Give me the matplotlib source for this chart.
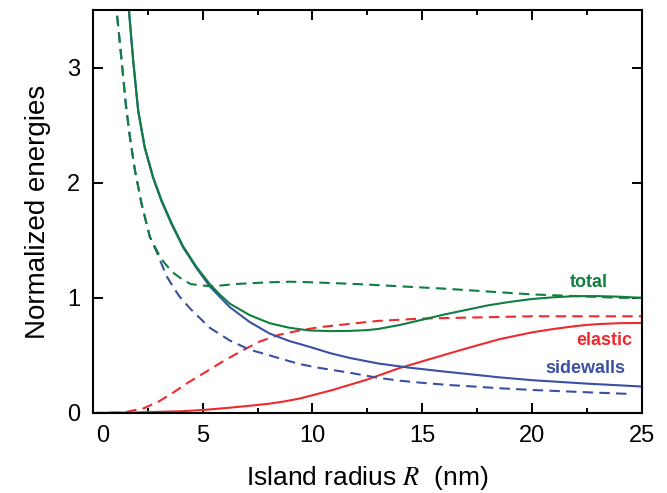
import numpy as np
import matplotlib
matplotlib.use('Agg')
import matplotlib.pyplot as plt
from matplotlib.ticker import MultipleLocator
from matplotlib.transforms import ScaledTranslation

plt.rcParams['font.family'] = ['Liberation Sans', 'DejaVu Sans']
plt.rcParams['mathtext.fontset'] = 'stix'

# total energy, solid and dashed
total_x = [1.64, 1.83, 2.06, 2.36, 2.74, 3.12, 3.58, 4.1, 4.71, 5.32, 5.77, 6.23, 7.14, 8.05, 8.95,
           9.86, 10.8, 11.7, 12.5, 13.0, 14.0, 15.0, 16.0, 17.0, 18.0, 19.0, 20.0, 21.0, 22.0, 23.0,
           24.0, 25.0]
total_y = [3.5, 3.07, 2.63, 2.31, 2.05, 1.85, 1.65, 1.45, 1.27, 1.12, 1.03, 0.95, 0.85, 0.78, 0.74,
           0.717, 0.711, 0.713, 0.72, 0.73, 0.765, 0.81, 0.855, 0.895, 0.935, 0.965, 0.99, 1.005, 1.015,
           1.015, 1.01, 1.0]

total_d_x = [1.1, 1.3, 1.49, 1.68, 1.91, 2.21, 2.59, 3.05, 3.27, 3.64, 4.0, 4.45, 4.85, 5.4,
             6.5, 8.0, 9.0, 10.0, 12.0, 14.0, 16.0, 18.0, 20.0, 22.0, 24.0, 25.0]
total_d_y = [3.45, 3.07, 2.69, 2.40, 2.11, 1.82, 1.53, 1.36, 1.30, 1.22, 1.17, 1.12, 1.11, 1.10,
             1.12, 1.135, 1.14, 1.135, 1.12, 1.10, 1.08, 1.055, 1.03, 1.015, 1.0, 1.0]

# sidewalls
side_x = [1.64, 1.83, 2.06, 2.36, 2.74, 3.12, 3.58, 4.1, 4.71, 5.32, 5.77, 6.23, 7.14, 8.05, 8.95,
          9.86, 10.8, 11.7, 13.0, 14.4, 16.0, 17.5, 18.5, 20.0, 22.5, 25.0]
side_y = [3.49, 3.06, 2.62, 2.30, 2.04, 1.84, 1.64, 1.44, 1.26, 1.10, 1.01, 0.92, 0.79, 0.69, 0.625,
          0.575, 0.52, 0.478, 0.43, 0.394, 0.36, 0.33, 0.31, 0.285, 0.255, 0.23]

side_d_x = [1.1, 1.3, 1.49, 1.68, 1.91, 2.21, 2.59, 2.9, 3.35, 3.7, 3.95, 4.41, 5.32, 6.23, 7.14,
            8.05, 8.95, 9.41, 10.2, 11.68, 13.0, 14.0, 15.0, 16.2, 17.5, 18.5, 20.0, 22.5, 24.5]
side_d_y = [3.45, 3.07, 2.69, 2.40, 2.11, 1.82, 1.53, 1.40, 1.19, 1.08, 1.01, 0.91, 0.74, 0.63, 0.55,
            0.50, 0.45, 0.425, 0.395, 0.35, 0.305, 0.28, 0.262, 0.243, 0.228, 0.215, 0.20, 0.18, 0.165]

# elastic
elas_x = [0, 2, 4, 5, 6, 7, 8, 8.7, 9.41, 10.92, 12.44, 13.95, 15.47, 17.0, 18.5, 20.0, 21.0,
          22.0, 22.5, 23.0, 24.0, 25.0]
elas_y = [0, 0.005, 0.015, 0.026, 0.042, 0.06, 0.08, 0.10, 0.125, 0.20, 0.287, 0.389, 0.475, 0.56,
          0.64, 0.70, 0.73, 0.755, 0.765, 0.772, 0.78, 0.782]

elas_d_x = [0, 1.4, 2.3, 3.0, 3.6, 4.3, 5.0, 5.85, 6.68, 7.59, 8.5, 9.4, 10.3, 11.5, 13.0,
            15.0, 17.5, 20.0, 22.5, 25.0]
elas_d_y = [0, 0.005, 0.04, 0.10, 0.17, 0.26, 0.34, 0.44, 0.53, 0.62, 0.68, 0.716, 0.745, 0.77,
            0.80, 0.82, 0.83, 0.84, 0.84, 0.84]

green = '#0f7f3f'
red = '#ee2a2e'
blue = '#3a50a2'

fig = plt.figure(figsize=(6.67, 4.93), dpi=100)
ax = fig.add_axes([0.1394, 0.1623, 0.8226, 0.8174])

lw = 1.5
ax.plot(elas_x, elas_y, color=red, lw=lw)
ax.plot(elas_d_x, elas_d_y, color=red, lw=lw, dashes=(5, 3))
ax.plot(side_x, side_y, color=blue, lw=lw)
ax.plot(side_d_x, side_d_y, color=blue, lw=lw, dashes=(5, 3))
ax.plot(total_x, total_y, color=green, lw=lw)
ax.plot(total_d_x, total_d_y, color=green, lw=lw, dashes=(5, 3))

ax.text(22.6, 1.13, 'total', color=green, fontsize=13, fontweight='bold', ha='center', va='center')
ax.text(23.3, 0.63, 'elastic', color=red, fontsize=13, fontweight='bold', ha='center', va='center')
ax.text(22.45, 0.385, 'sidewalls', color=blue, fontsize=13, fontweight='bold', ha='center', va='center')

ax.set_xlim(0, 25)
ax.set_ylim(0, 3.5)
ax.xaxis.set_major_locator(MultipleLocator(5))
ax.xaxis.set_minor_locator(MultipleLocator(2.5))
ax.yaxis.set_major_locator(MultipleLocator(1))
ax.tick_params(which='both', direction='in', top=True, right=True, width=1.4, labelsize=17)
ax.tick_params(axis='x', which='major', length=7, pad=9)
ax.tick_params(axis='x', which='minor', length=3.5)
ax.tick_params(axis='y', which='major', length=7, pad=9)
for sp in ax.spines.values():
    sp.set_linewidth(1.5)

ax.set_xlabel(r'Island radius $R$  (nm)', fontsize=19, labelpad=12)
ax.set_ylabel('Normalized energies', fontsize=20, labelpad=12)

# the "0" on the x axis sits a little to the right of the corner
fig.canvas.draw()
for t in ax.xaxis.get_major_ticks():
    if t.label1.get_text() == '0':
        t.label1.set_transform(t.label1.get_transform() + ScaledTranslation(0.10, 0, fig.dpi_scale_trans))

fig.savefig('out.png', dpi=100)
